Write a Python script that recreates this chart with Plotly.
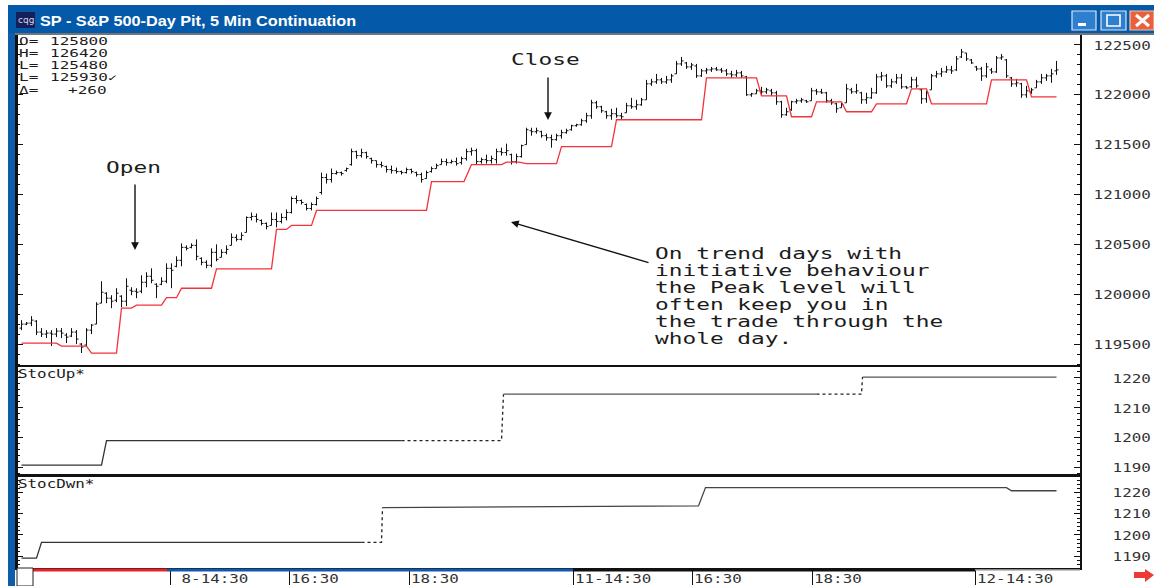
import plotly.graph_objects as go

W, H = 1154, 586

high = [119740,119720,119780,119740,119660,119640,119640,119660,119660,119610,119660,119640,119510,119660,119700,119920,120130,120020,119990,120060,119990,120160,120070,120060,120190,120220,120260,120110,120170,120310,120310,120380,120510,120490,120510,120550,120370,120340,120460,120500,120450,120490,120610,120600,120620,120780,120820,120810,120750,120720,120820,120820,120810,120850,120980,120990,120950,120910,120920,120980,121220,121210,121260,121240,121230,121270,121460,121440,121460,121430,121370,121340,121330,121290,121290,121270,121240,121270,121260,121230,121220,121240,121280,121310,121360,121360,121350,121370,121380,121460,121470,121460,121370,121400,121390,121460,121470,121510,121410,121410,121500,121670,121670,121670,121640,121610,121600,121610,121650,121660,121700,121710,121760,121820,121950,121940,121890,121840,121860,121870,121820,121920,121970,121950,121970,122150,122160,122210,122170,122190,122210,122340,122380,122330,122320,122310,122260,122270,122280,122280,122270,122260,122240,122250,122240,122190,122020,122060,122080,122070,122060,122040,121940,121870,121940,121960,121970,121950,122070,122060,122060,122030,121960,121920,121920,122110,122070,122110,122030,122020,122070,122210,122230,122210,122160,122210,122210,122090,122180,122180,122060,122040,122210,122240,122270,122290,122290,122390,122460,122420,122360,122290,122280,122320,122270,122390,122410,122360,122180,122160,122120,122090,122070,122150,122210,122210,122260,122340]
low = [119640,119690,119680,119590,119570,119560,119480,119570,119560,119510,119570,119500,119410,119470,119600,119700,119910,119910,119860,119920,119870,119880,119990,119960,120010,120070,120110,119960,120090,120110,120060,120270,120280,120440,120460,120340,120290,120260,120270,120330,120370,120400,120490,120530,120540,120620,120740,120720,120690,120650,120690,120670,120710,120740,120810,120910,120900,120840,120840,120890,121000,121110,121120,121200,121190,121230,121290,121360,121370,121360,121310,121270,121270,121220,121210,121210,121200,121210,121210,121180,121120,121160,121220,121260,121300,121290,121310,121290,121300,121340,121390,121300,121310,121310,121310,121310,121390,121390,121300,121310,121370,121500,121590,121610,121570,121540,121470,121540,121560,121610,121640,121680,121690,121720,121760,121860,121820,121760,121750,121770,121750,121820,121860,121850,121890,121950,122090,122110,122110,122110,122120,122210,122290,122260,122250,122170,122180,122210,122230,122240,122220,122190,122170,122180,122170,121990,121980,122010,122000,122010,121990,121900,121770,121790,121840,121910,121920,121920,121940,122000,122010,121920,121900,121820,121870,121920,122010,122010,121910,121910,121960,122010,122140,122070,122070,122110,122060,122060,122070,122070,121910,121920,122050,122170,122180,122220,122210,122240,122370,122340,122310,122240,122140,122170,122210,122220,122350,122170,122080,122080,121970,121970,122010,122070,122110,122140,122120,122200]
open_ = [119660,119700,119710,119730,119620,119600,119610,119600,119630,119590,119580,119620,119500,119490,119640,119700,119910,120010,119960,119940,119980,119930,120040,120030,120030,120120,120180,120100,120100,120130,120260,120280,120340,120470,120470,120490,120360,120320,120290,120420,120370,120420,120490,120570,120550,120620,120770,120780,120740,120710,120690,120750,120730,120770,120820,120960,120940,120900,120860,120900,121020,121170,121150,121210,121220,121240,121300,121430,121390,121420,121360,121340,121300,121280,121250,121240,121230,121220,121250,121220,121200,121160,121230,121260,121300,121330,121320,121330,121320,121360,121430,121440,121330,121350,121340,121350,121430,121420,121400,121330,121380,121500,121640,121630,121630,121590,121570,121550,121590,121620,121650,121690,121700,121740,121790,121920,121880,121830,121790,121810,121790,121820,121890,121880,121900,121950,122110,122130,122150,122130,122150,122210,122310,122320,122280,122290,122190,122240,122250,122260,122250,122240,122210,122200,122220,122180,122000,122010,122040,122030,122040,122020,121930,121800,121850,121930,121940,121940,121940,122040,122030,122020,121940,121910,121870,121920,122050,122030,122020,121950,121970,122020,122180,122190,122090,122130,122170,122080,122080,122150,122050,121960,122050,122190,122210,122230,122250,122250,122380,122420,122350,122280,122260,122190,122250,122230,122370,122350,122170,122110,122110,122000,122030,122070,122130,122170,122190,122240]
close = [119700,119710,119740,119620,119600,119610,119600,119630,119610,119570,119620,119550,119470,119640,119690,119900,120020,119960,119930,120010,119930,120080,120030,120020,120120,120180,120140,120080,120130,120260,120240,120340,120470,120460,120490,120380,120320,120290,120420,120350,120420,120450,120570,120550,120590,120770,120780,120750,120710,120680,120750,120730,120770,120820,120960,120940,120920,120860,120900,120960,121170,121150,121210,121220,121210,121260,121430,121390,121420,121380,121340,121300,121290,121250,121240,121230,121220,121250,121230,121200,121150,121220,121260,121290,121330,121320,121330,121310,121360,121430,121440,121330,121350,121340,121360,121430,121420,121440,121330,121380,121490,121650,121630,121640,121590,121570,121550,121590,121620,121640,121690,121700,121740,121790,121920,121880,121840,121790,121810,121790,121780,121890,121880,121900,121950,122110,122130,122150,122130,122150,122190,122310,122340,122280,122300,122190,122240,122250,122260,122250,122240,122210,122200,122220,122190,122000,122010,122040,122030,122050,122020,121930,121800,121830,121930,121940,121950,121930,122040,122030,122020,121940,121920,121860,121900,122060,122030,122040,121950,121970,122020,122180,122190,122090,122130,122170,122080,122070,122150,122090,121960,122020,122190,122210,122230,122250,122240,122360,122430,122360,122320,122260,122190,122280,122230,122370,122380,122190,122110,122120,122000,122040,122050,122130,122170,122190,122210,122250]
bars = list(range(len(high)))

peak_x = [0,7,8,13,14,19,20,22,23,28,29,31,32,38,39,50,51,53,54,58,59,81,82,88.5,90,96,97,99.5,101,107,108,118,119,136,137,147,148,153,154,158,159,164,165,170,171,177,178,181,182,193,194,201,202,207]
peak_y = [119510,119510,119480,119480,119410,119410,119860,119860,119890,119890,119965,119965,120060,120060,120255,120255,120650,120650,120690,120690,120840,120840,121130,121130,121300,121300,121325,121325,121310,121310,121480,121480,121750,121750,122170,122170,121990,121990,121780,121780,121930,121930,121830,121830,121910,121910,122060,122060,121910,121910,122150,122150,121980,121980]

stoc_up_x = [0,16,17,76]
stoc_up_y = [1190.9,1190.9,1199.1,1199.1]
stoc_up_dash_x = [76,96,96.4]
stoc_up_dash_y = [1199.1,1199.1,1214.6]
stoc_up2_x = [96.4,159]
stoc_up2_y = [1214.6,1214.6]
stoc_up3_dash_x = [159,168,168.2]
stoc_up3_dash_y = [1214.6,1214.6,1220.3]
stoc_up3_x = [168.2,207]
stoc_up3_y = [1220.3,1220.3]

stoc_dn_x = [0,3,4,68]
stoc_dn_y = [1189,1189,1196.5,1196.5]
stoc_dn_dash_x = [68,72,72.2]
stoc_dn_dash_y = [1196.5,1196.5,1213]
stoc_dn2_x = [72.2,100,135.4,136.8,197,198,207]
stoc_dn2_y = [1213,1213.4,1213.8,1222.5,1222.5,1221,1221]

main_ticks = [119500,120000,120500,121000,121500,122000,122500]
up_ticks = [1190,1200,1210,1220]
dn_ticks = [1190,1200,1210,1220]
time_pos = [29.8,53.6,77.6,110.4,134.2,158.2,190.8]
time_labels = ["\u00a08-14:30","16:30","18:30","11-14:30","16:30","18:30","12-14:30"]
info_labels = ["O=","H=","L=","L=","Δ="]
info_values = ["125800","126420","125480","125930✓","+260"]
note_lines = ["On trend days with","initiative behaviour","the Peak level will","often keep you in","the trade through the","whole day."]

MONO = "DejaVu Sans Mono"
INK = "#1c1c1c"

def px(x): return x / W
def py(y): return 1 - y / H

fig = go.Figure()
fig.add_trace(go.Ohlc(x=bars, open=open_, high=high, low=low, close=close, yaxis="y",
                      increasing=dict(line=dict(color="#111111", width=1)),
                      decreasing=dict(line=dict(color="#111111", width=1)),
                      tickwidth=0.4, name="SP", hoverinfo="skip"))
fig.add_trace(go.Scatter(x=peak_x, y=peak_y, mode="lines", yaxis="y",
                         line=dict(color="#f2333a", width=1.3), name="Peak"))
def stoc(x, y, axis, dash="solid", color="#333333"):
    fig.add_trace(go.Scatter(x=x, y=y, mode="lines", yaxis=axis,
                             line=dict(color=color, width=1.3, dash=dash)))
stoc(stoc_up_x, stoc_up_y, "y2")
stoc(stoc_up_dash_x, stoc_up_dash_y, "y2", "3px,3px", "#222222")
stoc(stoc_up2_x, stoc_up2_y, "y2", color="#555555")
stoc(stoc_up3_dash_x, stoc_up3_dash_y, "y2", "3px,3px", "#222222")
stoc(stoc_up3_x, stoc_up3_y, "y2", color="#555555")
stoc(stoc_dn_x, stoc_dn_y, "y3")
stoc(stoc_dn_dash_x, stoc_dn_dash_y, "y3", "3px,3px", "#222222")
stoc(stoc_dn2_x, stoc_dn2_y, "y3", color="#444444")

def yaxis(top, bottom, rng, ticks, minor, standoff):
    return dict(domain=[py(bottom), py(top)], range=rng, side="right", anchor="x",
                tickmode="array", tickvals=ticks, ticktext=[str(t) for t in ticks],
                ticks="inside", ticklen=6, tickwidth=1, tickcolor="#111111",
                minor=dict(dtick=minor, ticks="inside", ticklen=3, tickwidth=1, tickcolor="#111111"),
                mirror="ticks", showline=True, linecolor="#111111", linewidth=2,
                showgrid=False, zeroline=False, ticklabelstandoff=standoff,
                tickfont=dict(family=MONO, size=13, color="#333333"))

fig.update_layout(
    width=W, height=H, autosize=False, showlegend=False,
    margin=dict(l=0, r=0, t=0, b=0, pad=0),
    paper_bgcolor="white", plot_bgcolor="white",
    xaxis=dict(domain=[px(17), px(1080)], range=[-0.9, 211.7], anchor="y3", rangeslider=dict(visible=False),
               tickmode="array", tickvals=time_pos, ticktext=time_labels,
               ticks="outside", ticklen=15, tickwidth=1, tickcolor="#111111",
               showline=True, linecolor="#111111", linewidth=2, mirror=True, showgrid=False, zeroline=False,
               ticklabelposition="outside right", ticklabelstandoff=-3,
               tickfont=dict(family=MONO, size=13, color="#333333")),
    yaxis=yaxis(35, 366, [119280, 122600], main_ticks, 100, 9),
    yaxis2=yaxis(366, 476, [1187.3, 1224], up_ticks, 2, 28),
    yaxis3=yaxis(476, 568, [1184.3, 1228], dn_ticks, 2, 28),
)

def rect(x0, y0, x1, y1, fill, line=None, lw=0, layer="below"):
    fig.add_shape(type="rect", xref="paper", yref="paper", x0=px(x0), x1=px(x1), y0=py(y1), y1=py(y0),
                  fillcolor=fill, line=dict(color=line or fill, width=lw), layer=layer)

def text(x, y, s, size=13, anchor="left", color=INK, family=MONO, bold=False):
    fig.add_annotation(xref="paper", yref="paper", x=px(x), y=py(y), text=f"<b>{s}</b>" if bold else s,
                       showarrow=False, xanchor=anchor, yanchor="middle", borderpad=0, borderwidth=0,
                       font=dict(family=family, size=size, color=color))

def arrow(x0, y0, x1, y1):
    fig.add_annotation(xref="paper", yref="paper", x=px(x1), y=py(y1), ax=x0 - x1, ay=y0 - y1,
                       text="", showarrow=True, arrowhead=2, arrowsize=1.1, arrowwidth=1.4, arrowcolor="#111111")

# window chrome
rect(8, 5, W, 33, "#0459a8")
rect(8, 33, 15, H, "#0d5dab")
rect(15, 33, W, 35, "#70757a", layer="above")
rect(16, 12, 35, 28, "#15205a")
text(18, 20, "cqg", size=9, color="#d8d8e8", family="DejaVu Sans")
text(40, 20.5, "SP - S&P 500-Day Pit, 5 Min Continuation", size=14, color="white", family="Liberation Sans", bold=True)
rect(1072, 11, 1096, 30, "#2f7fd0", "#d5e5f5", 1.2)
rect(1078, 23, 1086, 26, "white")
rect(1101, 11, 1126, 30, "#2f7fd0", "#d5e5f5", 1.2)
rect(1107, 15, 1120, 26, "#2f7fd0", "white", 1.6)
rect(1130, 11, 1154, 30, "#e8613c", "#f3c4b0", 1.2)
fig.add_shape(type="path", xref="paper", yref="paper",
              path=f"M {px(1136)} {py(15)} L {px(1149)} {py(26)} M {px(1149)} {py(15)} L {px(1136)} {py(26)}",
              line=dict(color="white", width=3))
# panel frames
rect(16, 35, 18, 568, "#111111", layer="above")
rect(17, 365, 1080, 367, "#111111", layer="above")
rect(17, 475, 1080, 477, "#111111", layer="above")
# date strip
rect(33, 568.5, 167, 571.5, "#e8222a", layer="above")
rect(167, 568.5, 573, 571.5, "#1557a8", layer="above")
rect(573, 568.5, 975, 571.5, "#111111", layer="above")
rect(975, 569, 1080, 570.5, "#8a8a8a", layer="above")
rect(17, 568, 33, 586, "white", "#222222", 1, layer="above")
fig.add_shape(type="path", xref="paper", yref="paper", fillcolor="#ee3a34", line=dict(width=0),
              path=f"M {px(1134)} {py(572)} L {px(1145)} {py(572)} L {px(1145)} {py(569)} L {px(1154)} {py(575)} "
                   f"L {px(1145)} {py(582)} L {px(1145)} {py(578)} L {px(1134)} {py(578)} Z")

# readout
for i, (lab, val) in enumerate(zip(info_labels, info_values)):
    y = 41 + 12.3 * i
    text(19, y, lab, size=10)
    text(68 if val.startswith("+") else 50, y, val, size=10)

text(18, 373, "StocUp*")
text(18, 483, "StocDwn*")
text(106, 168, "Open", size=15)
text(511, 60, "Close", size=15)
for i, line in enumerate(note_lines):
    text(655, 254 + 17 * i, line, size=15)
arrow(135, 183, 135, 250)
arrow(548, 76, 548, 120)
arrow(650, 263, 511, 222)

post = """
document.body.style.margin='0';
document.documentElement.style.overflow='hidden';
var f={'10px':1.6,'13px':1.22,'14px':1.16,'15px':1.52};
document.querySelectorAll('svg text').forEach(function(t){
  var k=f[t.style.fontSize];
  if(k && t.textContent){
    if(t.classList.contains('annotation-text')){ var b=t.getBBox(); t.setAttribute('x',b.x); t.style.textAnchor='start'; }
    t.setAttribute('textLength',t.getComputedTextLength()*k); t.setAttribute('lengthAdjust','spacingAndGlyphs');
  }
});
"""
fig.write_html("out.html", post_script=post, config=dict(displayModeBar=False))
